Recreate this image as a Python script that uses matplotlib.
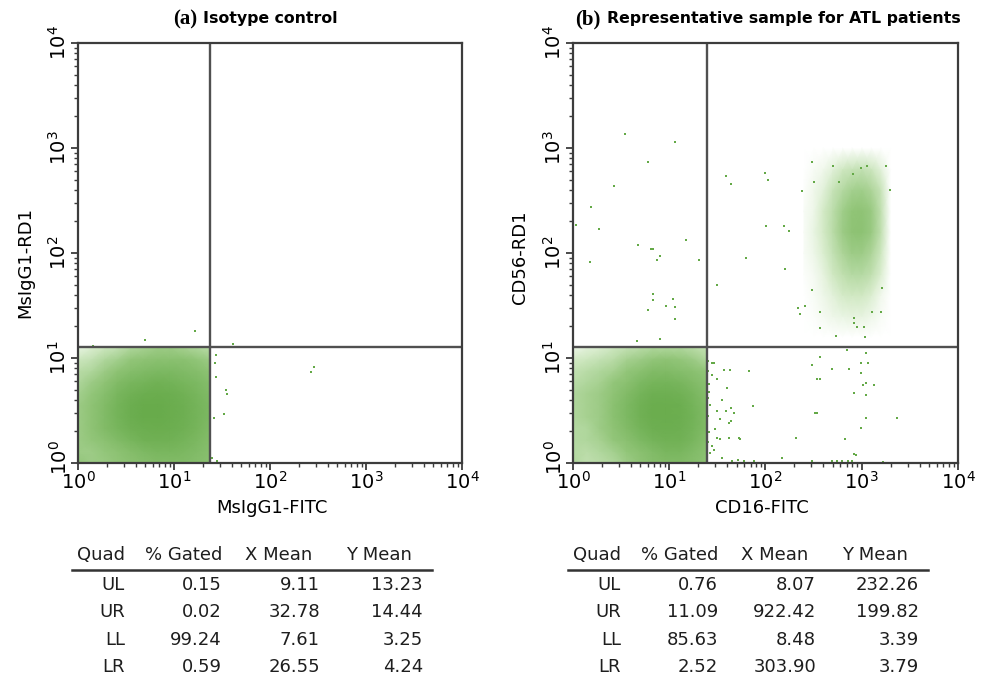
import numpy as np
import matplotlib
matplotlib.use('Agg')
import matplotlib.pyplot as plt
from matplotlib.colors import LinearSegmentedColormap
from matplotlib.lines import Line2D
from matplotlib.ticker import LogLocator, NullFormatter

plt.rcParams['font.family'] = ['DejaVu Sans']
plt.rcParams['mathtext.fontset'] = 'dejavusans'

# ------------------------------------------------------------------ data
panel_tags = ['(a)', '(b)']
panel_titles = ['Isotype control', 'Representative sample for ATL patients']
x_labels = ['MsIgG1-FITC', 'CD16-FITC']
y_labels = ['MsIgG1-RD1', 'CD56-RD1']
tick_values = [1, 10, 100, 1000, 10000]
tick_labels = [r'$10^{0}$', r'$10^{1}$', r'$10^{2}$', r'$10^{3}$', r'$10^{4}$']

# quadrant gate positions (fluorescence units)
gate_x = [23.7, 24.5]
gate_y = [12.6, 12.6]

# density of the main LL populations (fraction of channels occupied),
# node positions in log10 decades
a_ll_x = [0.00, 0.14, 0.28, 0.41, 0.55, 0.69, 0.83, 0.96, 1.10, 1.24, 1.375]
a_ll_y = [0.00, 0.11, 0.22, 0.33, 0.44, 0.55, 0.66, 0.77, 0.88, 0.99, 1.10]
a_ll_density = [
    [0.45, 0.40, 0.42, 0.48, 0.55, 0.60, 0.65, 0.65, 0.65, 0.60, 0.55],
    [0.40, 0.40, 0.45, 0.52, 0.62, 0.70, 0.75, 0.75, 0.72, 0.66, 0.58],
    [0.40, 0.45, 0.55, 0.66, 0.76, 0.85, 0.86, 0.85, 0.80, 0.72, 0.62],
    [0.40, 0.50, 0.65, 0.76, 0.86, 0.90, 0.92, 0.90, 0.86, 0.78, 0.66],
    [0.40, 0.50, 0.66, 0.80, 0.90, 0.95, 0.95, 0.92, 0.88, 0.80, 0.70],
    [0.40, 0.50, 0.65, 0.80, 0.90, 0.95, 0.95, 0.92, 0.88, 0.80, 0.70],
    [0.36, 0.45, 0.60, 0.75, 0.85, 0.90, 0.92, 0.90, 0.85, 0.76, 0.66],
    [0.30, 0.40, 0.50, 0.65, 0.75, 0.80, 0.85, 0.82, 0.76, 0.70, 0.60],
    [0.25, 0.30, 0.40, 0.50, 0.60, 0.66, 0.70, 0.70, 0.66, 0.60, 0.50],
    [0.15, 0.20, 0.30, 0.36, 0.45, 0.50, 0.55, 0.55, 0.55, 0.46, 0.40],
    [0.06, 0.10, 0.15, 0.20, 0.30, 0.35, 0.40, 0.40, 0.35, 0.30, 0.25],
]

b_ll_x = [0.00, 0.14, 0.28, 0.42, 0.56, 0.70, 0.83, 0.97, 1.11, 1.25, 1.39]
b_ll_y = [0.00, 0.11, 0.22, 0.33, 0.44, 0.55, 0.66, 0.77, 0.88, 0.99, 1.10]
b_ll_density = [
    [0.30, 0.22, 0.25, 0.30, 0.40, 0.50, 0.60, 0.65, 0.65, 0.60, 0.50],
    [0.28, 0.25, 0.30, 0.36, 0.46, 0.56, 0.66, 0.75, 0.75, 0.66, 0.55],
    [0.28, 0.30, 0.35, 0.45, 0.56, 0.70, 0.80, 0.85, 0.85, 0.75, 0.60],
    [0.28, 0.30, 0.40, 0.50, 0.65, 0.80, 0.88, 0.90, 0.88, 0.80, 0.65],
    [0.30, 0.35, 0.40, 0.55, 0.70, 0.85, 0.92, 0.92, 0.90, 0.82, 0.65],
    [0.30, 0.35, 0.40, 0.55, 0.70, 0.85, 0.92, 0.92, 0.90, 0.80, 0.65],
    [0.30, 0.35, 0.40, 0.50, 0.65, 0.80, 0.88, 0.88, 0.85, 0.75, 0.60],
    [0.25, 0.30, 0.35, 0.45, 0.55, 0.70, 0.78, 0.80, 0.75, 0.65, 0.55],
    [0.20, 0.25, 0.30, 0.35, 0.45, 0.55, 0.65, 0.65, 0.60, 0.55, 0.45],
    [0.12, 0.15, 0.20, 0.25, 0.35, 0.40, 0.45, 0.50, 0.45, 0.40, 0.30],
    [0.05, 0.08, 0.10, 0.15, 0.20, 0.25, 0.30, 0.30, 0.30, 0.25, 0.20],
]

# CD16+CD56+ population (panel b, UR)
b_ur_x = [2.40, 2.50, 2.60, 2.70, 2.80, 2.90, 3.00, 3.10, 3.20, 3.30]
b_ur_y = [1.20, 1.40, 1.60, 1.80, 2.00, 2.20, 2.40, 2.60, 2.80, 3.00]
b_ur_density = [
    [0.00, 0.00, 0.00, 0.00, 0.00, 0.00, 0.00, 0.00, 0.00, 0.00],
    [0.00, 0.01, 0.03, 0.05, 0.06, 0.07, 0.07, 0.05, 0.02, 0.00],
    [0.00, 0.02, 0.05, 0.08, 0.12, 0.14, 0.14, 0.10, 0.04, 0.00],
    [0.01, 0.03, 0.07, 0.14, 0.22, 0.28, 0.28, 0.22, 0.10, 0.00],
    [0.02, 0.05, 0.10, 0.20, 0.32, 0.40, 0.40, 0.32, 0.15, 0.00],
    [0.02, 0.06, 0.12, 0.25, 0.40, 0.50, 0.52, 0.42, 0.22, 0.00],
    [0.02, 0.05, 0.12, 0.24, 0.38, 0.48, 0.50, 0.42, 0.22, 0.00],
    [0.01, 0.04, 0.08, 0.18, 0.28, 0.36, 0.38, 0.32, 0.18, 0.00],
    [0.00, 0.02, 0.04, 0.08, 0.14, 0.18, 0.20, 0.16, 0.08, 0.00],
    [0.00, 0.00, 0.00, 0.00, 0.00, 0.00, 0.00, 0.00, 0.00, 0.00],
]

# isolated events (log10 decades)
a_events_x = [0.70, 1.22, 0.16, 1.61, 1.44, 1.54, 1.55, 1.52, 1.42, 1.43,
              1.44, 2.43, 2.46, 1.45, 1.40]
a_events_y = [1.17, 1.26, 1.11, 1.13, 1.03, 0.70, 0.66, 0.47, 0.43, 0.95,
              0.82, 0.87, 0.91, 0.02, 0.05]

b_events_x = [
    # UL
    0.00, 0.00, 0.54, 1.06, 0.78, 0.43, 0.19, 0.03, 0.27, 0.68, 0.81, 0.83,
    0.90, 0.87, 1.17, 1.31, 0.18, 0.00, 0.83, 0.83, 0.78, 0.97, 1.04, 1.06,
    1.06, 0.90, 0.66,
    # UR
    1.59, 1.64, 1.80, 1.50, 1.99, 2.03, 2.48, 2.01, 2.19, 2.24, 2.20, 2.34,
    2.41, 2.36, 2.50, 2.38, 2.73, 3.03, 2.92, 2.57, 3.20, 3.11, 2.57, 2.48,
    3.21, 2.70, 2.99, 3.05, 3.25, 3.29, 2.76, 2.91, 2.92, 2.95, 3.02,
    # LR
    2.57, 2.85, 3.04, 2.48, 2.69, 2.87, 2.99, 3.06, 2.99, 2.53, 2.57, 3.01,
    3.04, 3.13, 2.92, 3.04, 2.51, 2.53, 3.04, 3.37, 2.99, 2.32, 2.83, 2.92,
    2.94, 2.17, 1.57, 1.63, 1.83, 1.87, 1.60, 1.55, 1.50, 1.59, 1.64, 1.67,
    1.62, 1.64, 1.53, 1.48, 1.50, 1.53, 1.62, 1.72, 1.74, 1.44, 1.46, 1.55,
    1.65, 1.71, 1.78, 1.88, 1.50, 1.44, 1.44, 1.47, 2.48, 2.69, 2.74, 2.79,
    2.86, 2.90, 3.22, 1.40, 1.41, 1.40, 1.42, 1.40, 1.41, 1.40, 1.42, 1.41,
    1.40,
]
b_events_y = [
    # UL
    3.24, 3.27, 3.13, 3.06, 2.87, 2.64, 2.44, 2.27, 2.23, 2.08, 2.04, 2.04,
    1.97, 1.93, 2.12, 1.93, 1.91, 1.65, 1.61, 1.55, 1.46, 1.50, 1.56, 1.49,
    1.37, 1.18, 1.16,
    # UR
    2.73, 2.66, 1.95, 1.70, 2.76, 2.70, 2.87, 2.26, 2.26, 2.21, 1.85, 1.48,
    1.50, 1.42, 2.68, 2.59, 1.21, 1.20, 1.33, 1.29, 1.44, 1.44, 1.44, 1.65,
    1.67, 2.83, 2.81, 2.83, 2.83, 2.60, 2.68, 2.75, 1.38, 1.30, 1.30,
    # LR
    1.01, 1.08, 1.05, 0.93, 0.90, 0.90, 0.95, 0.95, 0.86, 0.80, 0.80, 0.74,
    0.76, 0.74, 0.67, 0.65, 0.48, 0.48, 0.43, 0.43, 0.33, 0.24, 0.23, 0.09,
    0.08, 0.05, 0.89, 0.89, 0.88, 0.54, 0.71, 0.60, 0.50, 0.50, 0.52, 0.48,
    0.38, 0.40, 0.42, 0.32, 0.24, 0.23, 0.24, 0.24, 0.23, 0.16, 0.12, 0.05,
    0.02, 0.03, 0.02, 0.02, 0.80, 0.84, 0.95, 0.95, 0.02, 0.02, 0.02, 0.02,
    0.02, 0.02, 0.01, 0.97, 0.75, 0.62, 0.55, 0.45, 0.30, 0.20, 0.10, 0.68,
    0.88,
]

# statistics tables
table_header = ['Quad', '% Gated', 'X Mean', 'Y Mean']
quads = ['UL', 'UR', 'LL', 'LR']
a_gated = ['0.15', '0.02', '99.24', '0.59']
a_xmean = ['9.11', '32.78', '7.61', '26.55']
a_ymean = ['13.23', '14.44', '3.25', '4.24']
b_gated = ['0.76', '11.09', '85.63', '2.52']
b_xmean = ['8.07', '922.42', '8.48', '303.90']
b_ymean = ['232.26', '199.82', '3.39', '3.79']

# ------------------------------------------------------------------ style
W, H = 987, 681
GREEN = '#64a947'
FRAME = '#3c3c3c'
cmap = LinearSegmentedColormap.from_list(
    'dots', [(0.0, '#ffffff'), (0.12, '#d3eac6'), (0.45, '#93c67a'),
             (1.0, GREEN)])

fig = plt.figure(figsize=(W / 100, H / 100), dpi=100)


def px_x(x):
    return x / W


def px_y(y):
    return 1 - y / H


ax_a = fig.add_axes([px_x(78), px_y(463), 384 / W, 420 / H])
ax_b = fig.add_axes([px_x(573), px_y(463), 385 / W, 420 / H])
axes = [ax_a, ax_b]

densities = [
    [(a_ll_x, a_ll_y, a_ll_density)],
    [(b_ll_x, b_ll_y, b_ll_density), (b_ur_x, b_ur_y, b_ur_density)],
]
events = [(a_events_x, a_events_y), (b_events_x, b_events_y)]

for i, ax in enumerate(axes):
    ax.set_xscale('log')
    ax.set_yscale('log')
    for gx, gy, dens in densities[i]:
        X, Y = np.meshgrid(10.0 ** np.array(gx), 10.0 ** np.array(gy))
        ax.pcolormesh(X, Y, np.array(dens), shading='gouraud', cmap=cmap,
                      vmin=0, vmax=1, zorder=1, rasterized=True)
    ex, ey = events[i]
    ax.scatter(10.0 ** np.array(ex), 10.0 ** np.array(ey), s=4.5, marker='s',
               color=GREEN, linewidths=0, zorder=2)
    ax.axvline(gate_x[i], color='#505050', lw=1.7, zorder=3)
    ax.axhline(gate_y[i], color='#505050', lw=1.7, zorder=3)

    ax.set_xlim(1, 1e4)
    ax.set_ylim(1, 1e4)
    ax.set_xticks(tick_values, tick_labels)
    # lowest y label is drawn separately (slightly raised, as in the source)
    ax.set_yticks(tick_values, [''] + tick_labels[1:])
    for axis in (ax.xaxis, ax.yaxis):
        axis.set_minor_locator(LogLocator(base=10, subs=np.arange(2, 10)))
        axis.set_minor_formatter(NullFormatter())
    ax.tick_params(which='major', direction='out', length=5, width=1.3,
                   color=FRAME, labelsize=14, pad=1)
    ax.tick_params(which='minor', direction='out', length=3, width=1.0,
                   color=FRAME)
    for lab in ax.get_yticklabels():
        lab.set_rotation(90)
        lab.set_va('center')
        lab.set_ha('right')
    ax.text(-0.019, 0.012, tick_labels[0], transform=ax.transAxes,
            rotation=90, ha='right', va='center', fontsize=14)
    for sp in ax.spines.values():
        sp.set_color(FRAME)
        sp.set_linewidth(1.6)
        sp.set_zorder(4)

    ax.set_xlabel(x_labels[i], fontsize=13)
    ax.set_ylabel(y_labels[i], fontsize=13)

ax_a.xaxis.set_label_coords((272 - 78) / 384, (463 - 499) / 420)
ax_b.xaxis.set_label_coords((762 - 573) / 385, (463 - 499) / 420)
ax_a.yaxis.set_label_coords((34 - 78) / 384, (463 - 262) / 420)
ax_b.yaxis.set_label_coords((529 - 573) / 385, (463 - 257) / 420)

# titles
title_tag_x = [197, 601]
title_text_x = [203, 607]
for i in range(2):
    fig.text(px_x(title_tag_x[i]), px_y(19), panel_tags[i], ha='right',
             va='center', fontsize=15, fontweight='bold',
             family='Liberation Serif')
    fig.text(px_x(title_text_x[i]), px_y(19), panel_titles[i], ha='left',
             va='center', fontsize=11.3, fontweight='bold',
             family='DejaVu Sans')

# tables
tables = [(a_gated, a_xmean, a_ymean), (b_gated, b_xmean, b_ymean)]
offsets = [0, 496]
header_right = [125, 222, 312, 412]
value_right = [125, 222, 320, 423]
header_y = 555
row_y = [585, 612, 640, 667]
for i in range(2):
    off = offsets[i]
    for j, h in enumerate(table_header):
        fig.text(px_x(header_right[j] + off), px_y(header_y), h, ha='right',
                 va='center', fontsize=13, color='#1e1e1e')
    fig.add_artist(Line2D([px_x(72 + off), px_x(432 + off)],
                          [px_y(570), px_y(570)], transform=fig.transFigure,
                          color='#333333', lw=1.8))
    g, xm, ym = tables[i]
    for r in range(4):
        cols = [quads[r], g[r], xm[r], ym[r]]
        for j, v in enumerate(cols):
            fig.text(px_x(value_right[j] + off), px_y(row_y[r]), v,
                     ha='right', va='center', fontsize=13, color='#1e1e1e')

fig.savefig('out.png', dpi=100)
